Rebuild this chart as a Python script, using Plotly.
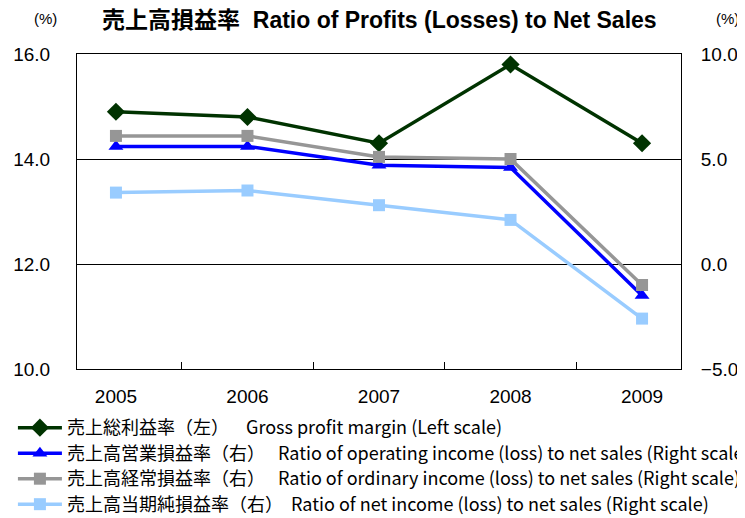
import plotly.graph_objects as go

years = ["2005", "2006", "2007", "2008", "2009"]
gross_profit = [14.9, 14.8, 14.3, 15.8, 14.3]
operating = [5.6, 5.6, 4.7, 4.6, -1.5]
ordinary = [6.1, 6.1, 5.1, 5.0, -1.0]
net_income = [3.4, 3.5, 2.8, 2.1, -2.6]

names = [
    "売上総利益率（左）　\u00a0\u00a0Gross profit margin (Left scale)",
    "売上高営業損益率（右）　\u00a0Ratio of operating income (loss) to net sales (Right scale)",
    "売上高経常損益率（右）　\u00a0Ratio of ordinary income (loss) to net sales (Right scale)",
    "売上高当期純損益率（右）\u00a0\u00a0Ratio of net income (loss) to net sales (Right scale)",
]

FONT = "Liberation Sans, Arial, Noto Sans CJK JP"
LEGEND_FONT = "Noto Sans CJK JP"


def legend_label(text):
    return '<span style="font-size:18px">' + text + "</span>"


fig = go.Figure()
fig.add_trace(go.Scatter(x=years, y=gross_profit, name=legend_label(names[0]),
                         mode="lines+markers",
                         line=dict(color="#003300", width=3.5),
                         marker=dict(symbol="diamond", size=14, color="#003300"),
                         legendgroup="a", yaxis="y"))
fig.add_trace(go.Scatter(x=years, y=operating, name=legend_label(names[1]),
                         mode="lines+markers",
                         line=dict(color="#0000ff", width=3.5),
                         marker=dict(symbol="triangle-up", size=13, color="#0000ff"),
                         legendgroup="b", yaxis="y2"))
fig.add_trace(go.Scatter(x=years, y=ordinary, name=legend_label(names[2]),
                         mode="lines+markers",
                         line=dict(color="#969696", width=3.5),
                         marker=dict(symbol="square", size=12, color="#969696"),
                         legendgroup="c", yaxis="y2"))
fig.add_trace(go.Scatter(x=years, y=net_income, name=legend_label(names[3]),
                         mode="lines+markers",
                         line=dict(color="#99ccff", width=3.5),
                         marker=dict(symbol="square", size=12, color="#99ccff"),
                         legendgroup="d", yaxis="y2"))

fig.update_layout(
    width=745, height=518,
    margin=dict(l=69, r=72, t=46, b=157, autoexpand=False),
    paper_bgcolor="white", plot_bgcolor="white",
    font=dict(family=FONT, size=19, color="black"),
    showlegend=True,
    legend=dict(xref="container", yref="container", x=0.0066, xanchor="left",
                y=0.224, yanchor="top",
                font=dict(size=17.3, family=LEGEND_FONT), tracegroupgap=0,
                bgcolor="rgba(0,0,0,0)", itemwidth=44),
    xaxis=dict(type="category", showline=True, linecolor="black", linewidth=1,
               mirror=True, ticks="inside", ticklen=7, tickcolor="black",
               tickson="boundaries", showgrid=False,
               tickfont=dict(size=19, family=FONT), ticklabelstandoff=10),
    yaxis=dict(range=[10, 16], dtick=2, tickformat=".1f", showline=True,
               linecolor="black", linewidth=1, ticks="inside", ticklen=7,
               tickcolor="black", showgrid=True, gridcolor="black", gridwidth=1,
               zeroline=False, tickfont=dict(size=19, family=FONT),
               ticklabelstandoff=22),
    yaxis2=dict(range=[-5, 10], dtick=5, tickformat=".1f", overlaying="y",
                side="right", showline=True, linecolor="black", linewidth=1,
                ticks="inside", ticklen=7, tickcolor="black", showgrid=False,
                zeroline=False, tickfont=dict(size=19, family=FONT),
                ticklabelstandoff=15),
    annotations=[
        dict(text="<b>売上高損益率\u00a0\u00a0Ratio of Profits (Losses) to Net Sales</b>",
             xref="paper", yref="paper", x=0.5, y=1.0, yshift=34,
             xanchor="center", yanchor="middle", showarrow=False,
             font=dict(size=23, family=FONT)),
        dict(text="(%)", xref="paper", yref="paper", x=0, xshift=-32, y=1.0, yshift=36,
             xanchor="center", yanchor="middle", showarrow=False,
             font=dict(size=15, family=FONT)),
        dict(text="(%)", xref="paper", yref="paper", x=1, xshift=46, y=1.0, yshift=36,
             xanchor="center", yanchor="middle", showarrow=False,
             font=dict(size=15, family=FONT)),
    ],
)

fig.write_html("out.html")
